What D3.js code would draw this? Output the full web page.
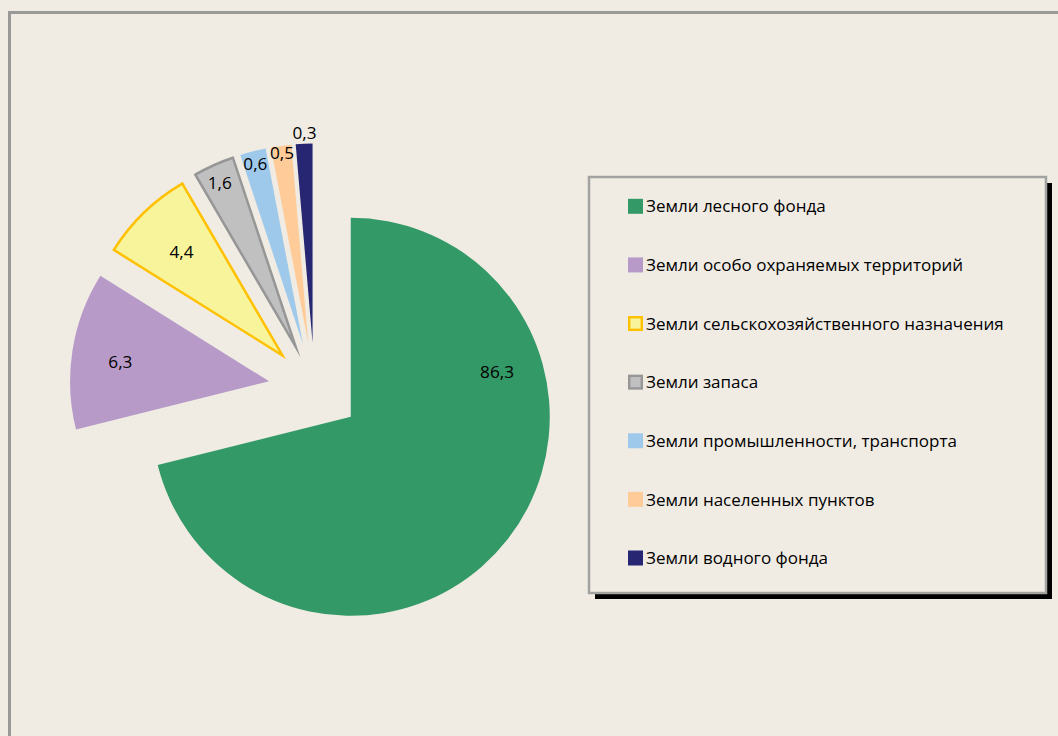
<!DOCTYPE html>
<html>
<head>
<meta charset="utf-8">
<script src="https://cdn.jsdelivr.net/npm/d3@7"></script>
<style>
  html, body { margin: 0; padding: 0; background: #f0ece4; }
  svg { display: block; }
  text { font-family: "Open Sans", "Noto Sans", sans-serif; fill: #000; }
</style>
</head>
<body>
<svg id="chart" width="1058" height="736"></svg>
<script>
// ---- data ----
const categories = [
  "Земли лесного фонда",
  "Земли особо охраняемых территорий",
  "Земли сельскохозяйственного назначения",
  "Земли запаса",
  "Земли промышленности, транспорта",
  "Земли населенных пунктов",
  "Земли водного фонда"
];
// data labels as printed on the chart (%)
const labelValues = [86.3, 6.3, 4.4, 1.6, 0.6, 0.5, 0.3];
// slice sizes as actually drawn in the picture (share of the full circle, %)
const drawnShares = [71.1, 12.8, 7.7, 3.3, 2.1, 1.65, 1.35];

// ---- styles ----
const fills   = ["#339966", "#b79ac8", "#f8f49c", "#c0c0c0", "#9fc9eb", "#ffcc99", "#262672"];
const strokes = [null, null, "#ffc000", "#969696", null, null, null];
const labelRadius = [153, 150, 145, 180, 186, 192, 210];
const labelAngleFrac = [0.285, 0.47, 0.5, 0.45, 0.47, 0.5, 0.55];

const svg = d3.select("#chart");
const W = 1058, H = 736;

svg.append("rect").attr("width", W).attr("height", H).attr("fill", "#f0ece4");
// outer frame
svg.append("rect")
  .attr("x", 9.5).attr("y", 12.5).attr("width", 1200).attr("height", 900)
  .attr("fill", "none").attr("stroke", "#999a98").attr("stroke-width", 3);

// ---- pie ----
const cx = 314.5, cy = 388.5, R = 199, explode = 46;
const pie = d3.pie().sort(null).value(d => d).startAngle(0).endAngle(2 * Math.PI);
const arcs = pie(drawnShares);
const arc = d3.arc().innerRadius(0).outerRadius(R);

const g = svg.append("g").attr("transform", `translate(${cx},${cy})`);
const slices = g.selectAll("g.slice").data(arcs).enter().append("g")
  .attr("class", "slice")
  .attr("transform", d => {
    const m = (d.startAngle + d.endAngle) / 2;
    return `translate(${explode * Math.sin(m)},${-explode * Math.cos(m)})`;
  });

slices.append("path")
  .attr("d", arc)
  .attr("fill", (d, i) => fills[i])
  .attr("stroke", (d, i) => strokes[i] || "none")
  .attr("stroke-width", 2.5)
  .attr("stroke-linejoin", "miter")
  .attr("stroke-miterlimit", 20);

const fmt = v => d3.format(".1f")(v).replace(".", ",");
slices.append("text")
  .attr("x", (d, i) => {
    const a = d.startAngle + (d.endAngle - d.startAngle) * labelAngleFrac[i];
    return labelRadius[i] * Math.sin(a);
  })
  .attr("y", (d, i) => {
    const a = d.startAngle + (d.endAngle - d.startAngle) * labelAngleFrac[i];
    return -labelRadius[i] * Math.cos(a);
  })
  .attr("dy", "0.36em")
  .attr("text-anchor", "middle")
  .attr("font-size", 17.2)
  .text((d, i) => fmt(labelValues[i]));

// ---- legend ----
const lx = 589, ly = 177, lw = 457, lh = 416;
svg.append("rect").attr("x", lx + 6).attr("y", ly + 6).attr("width", lw).attr("height", lh).attr("fill", "#000");
svg.append("rect").attr("x", lx).attr("y", ly).attr("width", lw).attr("height", lh)
  .attr("fill", "#f0ece4").attr("stroke", "#a2a2a0").attr("stroke-width", 2.5);

const rowY = d3.scalePoint().domain(d3.range(categories.length)).range([206.3, 558]);
const items = svg.selectAll("g.leg").data(categories).enter().append("g")
  .attr("class", "leg")
  .attr("transform", (d, i) => `translate(0,${rowY(i)})`);
items.append("rect")
  .attr("x", (d, i) => strokes[i] ? 629.2 : 628)
  .attr("y", (d, i) => strokes[i] ? -6.3 : -7.5)
  .attr("width", (d, i) => strokes[i] ? 12.6 : 15)
  .attr("height", (d, i) => strokes[i] ? 12.6 : 15)
  .attr("fill", (d, i) => fills[i])
  .attr("stroke", (d, i) => strokes[i] || "none")
  .attr("stroke-width", 2.4);
items.append("text")
  .attr("x", 646).attr("y", 0).attr("dy", "0.36em")
  .attr("font-size", 17)
  .text(d => d);
</script>
</body>
</html>
